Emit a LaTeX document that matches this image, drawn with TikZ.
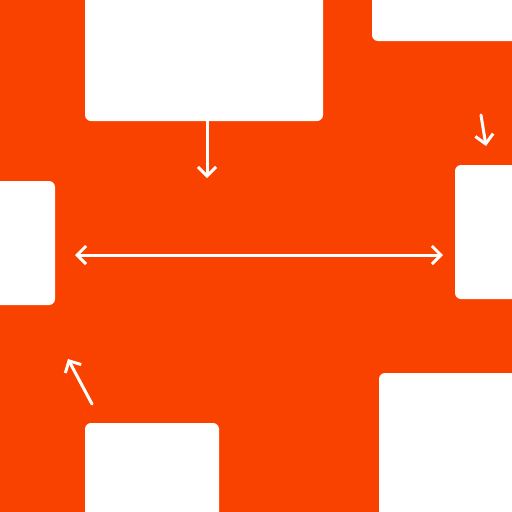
\documentclass[tikz,border=0pt]{standalone}
\usetikzlibrary{arrows.meta}
\definecolor{bg}{RGB}{250,66,0}
\tikzset{
  card/.style={draw=none,fill=white,rounded corners=6pt,inner sep=0pt,outer sep=0pt},
  tip/.style={},
  arr/.style={draw=white,line width=3pt,line cap=round,-{Straight Barb[length=9pt,width=18pt,line width=3pt]}},
  darr/.style={draw=white,line width=3pt,line cap=round,{Straight Barb[length=9pt,width=18pt,line width=3pt]}-{Straight Barb[length=9pt,width=18pt,line width=3pt]}}
}
\begin{document}
\begin{tikzpicture}[x=1pt,y=-1pt]
\useasboundingbox (0,0) rectangle (512,512);
\clip (0,0) rectangle (512,512);
\fill[bg] (0,0) rectangle (512,512);
\node[card,minimum width=238pt,minimum height=131pt] (A) at (204,55.5) {};
\node[card,minimum width=150pt,minimum height=51pt] (B) at (447,15.5) {};
\node[card,minimum width=65pt,minimum height=124pt] (C) at (22.5,243) {};
\node[card,minimum width=67pt,minimum height=134pt] (D) at (488.5,232) {};
\node[card,minimum width=134pt,minimum height=99pt] (E) at (152,472.5) {};
\node[card,minimum width=143pt,minimum height=149pt] (F) at (450.5,447.5) {};
\coordinate (a2) at (207,178);
\coordinate (l) at (75,255);
\coordinate (r) at (443,255);
\coordinate (s1) at (481,115);
\coordinate (s2) at (486,146);
\coordinate (t1) at (92,404);
\coordinate (t2) at (68,359);
\draw[arr] (A.south -| a2) -- (a2);
\draw[darr] (l) -- (r);
\draw[arr] (s1) -- (s2);
\draw[arr] (t1) -- (t2);
\end{tikzpicture}
\end{document}
